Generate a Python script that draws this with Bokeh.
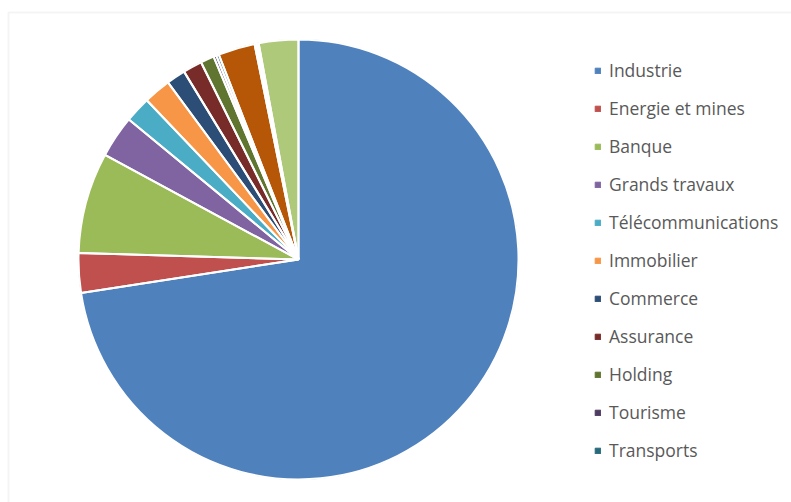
import math
from bokeh.plotting import figure
from bokeh.models import ColumnDataSource, Legend, LegendItem, Range1d, BoxAnnotation
from bokeh.embed import file_html
from bokeh.resources import INLINE

# Data (shares in %)
sectors = ["Industrie", "Energie et mines", "Banque", "Grands travaux",
           "Télécommunications", "Immobilier", "Commerce", "Assurance",
           "Holding", "Tourisme", "Transports", "Autre 1", "Autre 2",
           "Autre 3", "Autre 4"]
shares = [72.5, 2.9, 7.4, 3.1, 1.9, 2.0, 1.4, 1.4, 1.0, 0.2, 0.2, 2.7, 0.15, 0.15, 2.9]
colors = ["#4F81BD", "#C0504D", "#9BBB59", "#8064A2", "#4BACC6", "#F79646",
          "#2C4D75", "#772C2A", "#5F7530", "#4D3B62", "#276A7C", "#B65708",
          "#729ACA", "#CD7371", "#AFC97A"]
legend_count = 11  # only the first 11 sectors appear in the legend

W, H = 791, 502
CX, CY, R = 298, H - 259, 220

total = sum(shares)
starts, ends = [], []
cum = 0.0
for s in shares:
    a0 = math.pi / 2 - 2 * math.pi * cum / total
    cum += s
    a1 = math.pi / 2 - 2 * math.pi * cum / total
    starts.append(a1)
    ends.append(a0)

src = ColumnDataSource(dict(sector=sectors, share=shares, color=colors,
                            start=starts, end=ends))

p = figure(width=W, height=H, output_backend="svg", toolbar_location=None,
           x_axis_location=None, y_axis_location=None,
           x_range=Range1d(0, W), y_range=Range1d(0, H),
           min_border=0, outline_line_color=None)
p.grid.visible = False
p.background_fill_color = "white"
p.border_fill_color = "white"

frame = BoxAnnotation(left=8, right=W + 20, bottom=-20, top=H - 12,
                      fill_alpha=0, line_color="#d9d9d9", line_width=2)
p.add_layout(frame)

r = p.wedge(x=CX, y=CY, radius=R, start_angle="start", end_angle="end",
            direction="anticlock", fill_color="color", line_color="color",
            line_width=1, source=src)
p.wedge(x=CX, y=CY, radius=R, start_angle="start", end_angle="end",
        direction="anticlock", fill_color=None, line_color="white",
        line_width=2, source=src)

items = [LegendItem(label=sectors[i], renderers=[r], index=i)
         for i in range(legend_count)]
legend = Legend(items=items, location=(594, 40), padding=0, margin=0,
                spacing=14, label_height=24, glyph_height=7, glyph_width=7,
                label_standoff=8, border_line_alpha=0, background_fill_alpha=0,
                label_text_font="Open Sans", label_text_font_size="17.5px",
                label_text_color="#595959")
p.add_layout(legend)

open("out.html", "w").write(file_html(p, INLINE))
